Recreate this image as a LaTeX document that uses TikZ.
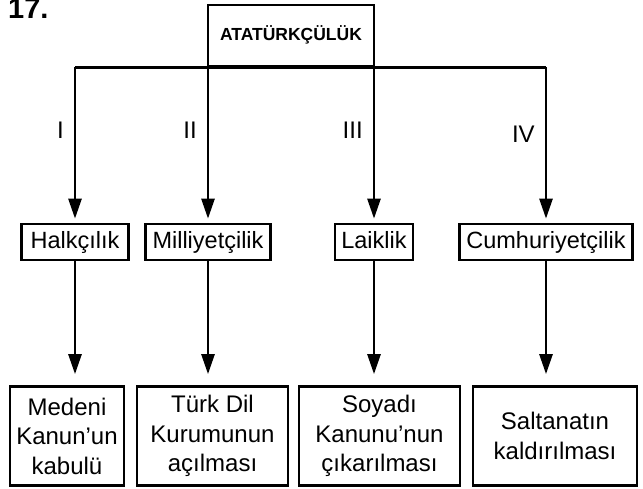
\documentclass[tikz,border=0pt]{standalone}
\usepackage{fontspec}
\setmainfont{Liberation Sans}
\usetikzlibrary{arrows.meta, positioning}

\tikzset{
  box/.style={draw, line width=2.7pt, inner sep=0pt, align=center},
  link/.style={line width=2.6pt, -{Triangle[length=20pt,width=13pt]}},
  bar/.style={line width=2.6pt},
  roman/.style={font=\fontsize{24}{24}\selectfont, inner sep=0pt}
}

\begin{document}
\begin{tikzpicture}[x=1pt,y=-1pt]

\useasboundingbox (0,0) rectangle (643,488);

% Question number
\node[anchor=base west, inner sep=0pt, font=\bfseries\fontsize{29}{29}\selectfont] (num) at (8,18) {17.};

% Top box
\node[box, minimum width=166pt, minimum height=61pt, text height=13pt, text depth=4pt, font=\bfseries\fontsize{17.5}{17.5}\selectfont] (ata) at (291,35.5) {ATATÜRKÇÜLÜK};

% Principles
\foreach \name/\x/\w/\txt in {hal/75/107pt/Halkçılık, mil/208/125pt/Milliyetçilik, lai/374/78pt/Laiklik, cum/546/173pt/Cumhuriyetçilik}
{
    \node[box, minimum width=\w, minimum height=36pt, text height=17pt, text depth=5pt, font=\fontsize{23.5}{23.5}\selectfont] (\name) at (\x,242) {\txt};
}

% Reforms
\foreach \name/\x/\w/\txt in {med/67/114pt/{Medeni\\Kanun’un\\kabulü}, tur/212.5/151pt/{Türk Dil\\Kurumunun\\açılması}, soy/379.5/161pt/{Soyadı\\Kanunu’nun\\çıkarılması}, sal/555/164pt/{Saltanatın\\kaldırılması}}
{
    \node[box, minimum width=\w, minimum height=99pt, font=\fontsize{24}{29.5}\selectfont] (\name) at (\x,436) {\txt};
}

% Bar under the top box
\draw[bar] (hal.north |- ata.south) -- (cum.north |- ata.south);

% Arrows to the principles
\foreach \name/\lab/\p in {hal/I/0.405, mil/II/0.405, lai/III/0.405, cum/IV/0.43}
{
    \draw[link, shorten >=4pt] (\name.north |- ata.south) -- node[roman, pos=\p, left=10pt] {\lab} (\name.north);
}

% Arrows to the reforms
\foreach \up/\down in {hal/med, mil/tur, lai/soy, cum/sal}
{
    \draw[link, shorten >=11pt] (\up.south) -- (\up.south |- \down.north);
}

\end{tikzpicture}
\end{document}
